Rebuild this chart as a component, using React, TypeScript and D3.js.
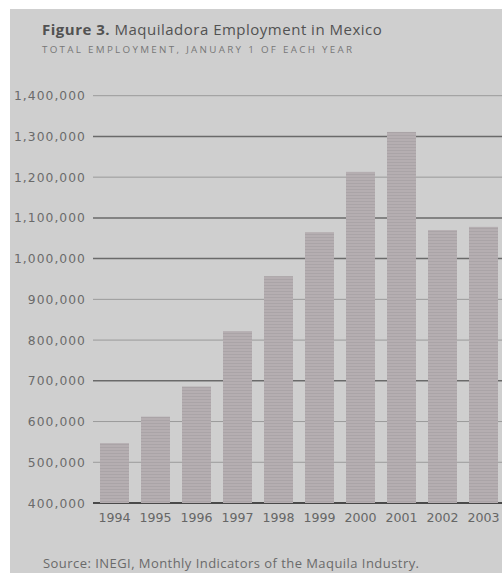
import React from "react";
import * as d3 from "d3";

const years = ["1994", "1995", "1996", "1997", "1998", "1999", "2000", "2001", "2002", "2003"];
const employment = [547000, 612000, 686000, 822000, 957000, 1065000, 1213000, 1311000, 1070000, 1078000];
const yTicks = [400000, 500000, 600000, 700000, 800000, 900000, 1000000, 1100000, 1200000, 1300000, 1400000];
const strongTicks = [700000, 1000000, 1100000, 1300000];

const titleBold = "Figure 3.";
const titleRest = " Maquiladora Employment in Mexico";
const subtitle = "TOTAL EMPLOYMENT, JANUARY 1 OF EACH YEAR";
const source = "Source: INEGI, Monthly Indicators of the Maquila Industry.";

const W = 502;
const H = 573;

export default function App() {
  const x = d3.scaleBand<string>().domain(years).range([100, 498]).paddingInner(0.293).paddingOuter(0);
  const y = d3.scaleLinear().domain([400000, 1400000]).range([503, 95.7]);
  const fmt = d3.format(",");
  const gridX0 = 93;

  return (
    <div style={{ position: "absolute", left: 0, top: 0 }}>
      <svg width={W} height={H} style={{ display: "block" }}>
        <defs>
          <pattern id="scan" width="4" height="3" patternUnits="userSpaceOnUse">
            <rect width="4" height="3" fill="#b5aeb1" />
            <rect width="4" height="1" fill="#aaa4a7" />
          </pattern>
        </defs>
        <rect x={0} y={0} width={W} height={H} fill="#ffffff" />
        <rect x={10} y={9} width={W - 10} height={H - 9} fill="#cfcfcf" />

        <text x={42} y={35} fontFamily="'Open Sans', sans-serif" fontSize={15} letterSpacing={0.5} fill="#525252">
          <tspan fontWeight={700}>{titleBold}</tspan>
          <tspan>{titleRest}</tspan>
        </text>
        <text x={42} y={52.5} fontFamily="'Open Sans', sans-serif" fontSize={9.8} letterSpacing={2.3} fill="#777777">
          {subtitle}
        </text>

        {yTicks.map((t) => (
          <line
            key={"g" + t}
            x1={gridX0}
            x2={W}
            y1={y(t)}
            y2={y(t)}
            stroke={t === 400000 ? "#4a4a4a" : strongTicks.includes(t) ? "#6a6a6a" : "#9a9a9a"}
            strokeWidth={t === 400000 ? 2 : strongTicks.includes(t) ? 1.5 : 1}
          />
        ))}

        {years.map((yr, i) => (
          <rect
            key={"b" + yr}
            x={x(yr)}
            y={y(employment[i])}
            width={x.bandwidth()}
            height={y(400000) - y(employment[i])}
            fill="url(#scan)"
          />
        ))}

        {yTicks.map((t) => (
          <text
            key={"l" + t}
            x={86}
            y={y(t) + 4.5}
            textAnchor="end"
            fontFamily="'DejaVu Sans', sans-serif"
            fontSize={12.3}
            letterSpacing={1.05}
            fill="#6a6a6a"
          >
            {fmt(t)}
          </text>
        ))}

        {years.map((yr) => (
          <text
            key={"x" + yr}
            x={(x(yr) as number) + x.bandwidth() / 2}
            y={522}
            textAnchor="middle"
            fontFamily="'DejaVu Sans', sans-serif"
            fontSize={12.6}
            fill="#666666"
          >
            {yr}
          </text>
        ))}

        <text x={43} y={568} fontFamily="'Open Sans', sans-serif" fontSize={13} letterSpacing={0.45} fill="#6a6a6a">
          {source}
        </text>
      </svg>
    </div>
  );
}
